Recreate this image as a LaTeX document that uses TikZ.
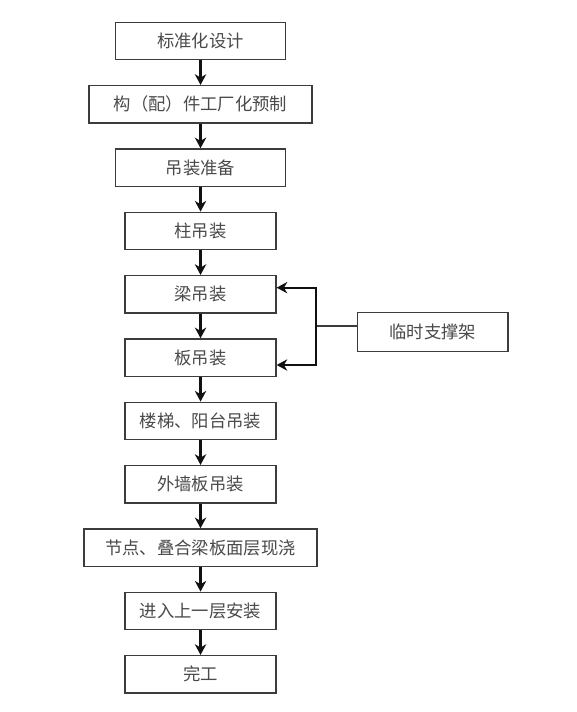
\documentclass[tikz,border=0pt]{standalone}
\usepackage{fontspec}
\newfontfamily\cjk{Noto Sans CJK SC}
\usetikzlibrary{arrows.meta, positioning, calc}
\definecolor{BoxGray}{HTML}{3C3C3C}
\definecolor{TextGray}{HTML}{4A4A4A}
\definecolor{ArrowBlack}{HTML}{111111}
\tikzset{
  stepbox/.style={draw=BoxGray, line width=1.1pt, fill=white, align=center, minimum height=28pt, inner sep=3pt, font=\cjk\fontsize{13pt}{15pt}\selectfont, text=TextGray},
  arrow/.style={-{Stealth[length=8pt, width=8.5pt, inset=2.5pt]}, line width=1.6pt, draw=ArrowBlack},
  joinline/.style={line width=1.1pt, draw=BoxGray}
}
\begin{document}
\begin{tikzpicture}[node distance=18.4pt]
\useasboundingbox (0,0) rectangle (432pt,-534pt);
\node[stepbox, minimum width=127.5pt] (sheji) at (150.4pt,-30.75pt) {标准化设计};
\node[stepbox, minimum width=167pt, below=of sheji] (yuzhi) {构（配）件工厂化预制};
\node[stepbox, minimum width=127.5pt, below=of yuzhi] (zhunbei) {吊装准备};
\node[stepbox, minimum width=113pt, below=of zhunbei] (zhu) {柱吊装};
\node[stepbox, minimum width=113pt, below=of zhu] (liang) {梁吊装};
\node[stepbox, minimum width=113pt, below=of liang] (ban) {板吊装};
\node[stepbox, minimum width=113pt, below=of ban] (louti) {楼梯、阳台吊装};
\node[stepbox, minimum width=113pt, below=of louti] (waiqiang) {外墙板吊装};
\node[stepbox, minimum width=175pt, below=of waiqiang] (xianjiao) {节点、叠合梁板面层现浇};
\node[stepbox, minimum width=113pt, below=of xianjiao] (shangceng) {进入上一层安装};
\node[stepbox, minimum width=113pt, below=of shangceng] (wangong) {完工};
% temporary support on the right
\node[stepbox, minimum width=113pt, minimum height=29pt, anchor=west] (zhicheng) at ($(liang.east)!0.5!(ban.east)+(60pt,-4.5pt)$) {临时支撑架};
\coordinate (jn) at ($(liang.east)!0.5!(ban.east)+(29.3pt,0)$);
\foreach \a/\b in {sheji/yuzhi, yuzhi/zhunbei, zhunbei/zhu, zhu/liang, liang/ban, ban/louti, louti/waiqiang, waiqiang/xianjiao, xianjiao/shangceng, shangceng/wangong}
  \draw[arrow] (\a) -- (\b);
\draw[joinline] (zhicheng.west |- jn) -- (jn);
\draw[arrow, line width=1.4pt] (jn) |- ([yshift=5pt]liang.east);
\draw[arrow, line width=1.4pt] (jn) |- ([yshift=-5.5pt]ban.east);
\end{tikzpicture}
\end{document}
